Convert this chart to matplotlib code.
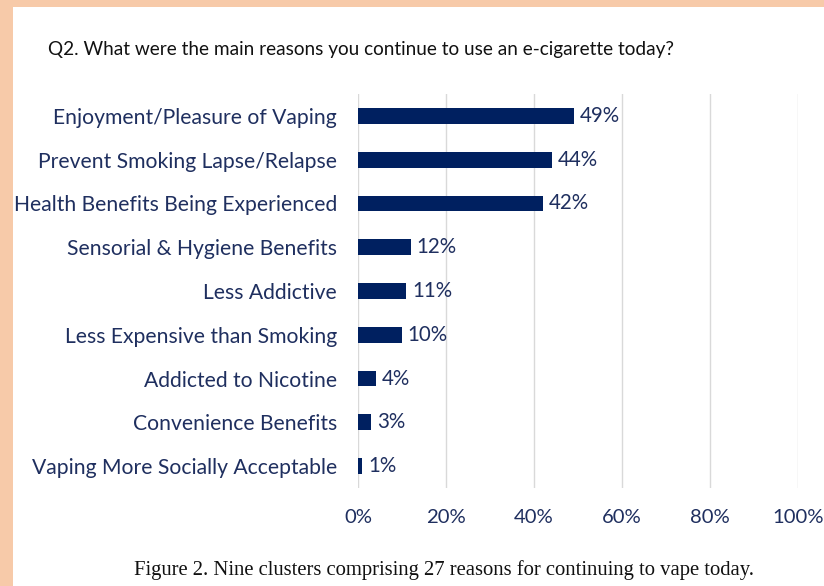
import matplotlib.pyplot as plt
from matplotlib.patches import Rectangle

reasons = ["Enjoyment/Pleasure of Vaping", "Prevent Smoking Lapse/Relapse",
           "Health Benefits Being Experienced", "Sensorial & Hygiene Benefits",
           "Less Addictive", "Less Expensive than Smoking", "Addicted to Nicotine",
           "Convenience Benefits", "Vaping More Socially Acceptable"]
percent = [49, 44, 42, 12, 11, 10, 4, 3, 1]
ticks = [0, 20, 40, 60, 80, 100]
tick_labels = ["0%", "20%", "40%", "60%", "80%", "100%"]

navy = "#002060"
text_navy = "#1f2f5f"

plt.rcParams["font.family"] = ["Lato", "DejaVu Sans"]

fig = plt.figure(figsize=(8.24, 5.86), dpi=100, facecolor="#f7caa9")
# white page with peach margin on left and top
fig.patches.append(Rectangle((13 / 824, 0), 1, 1 - 7 / 586, transform=fig.transFigure,
                             facecolor="white", edgecolor="none", zorder=-5))

ax = fig.add_axes([358 / 824, 1 - 488 / 586, 440 / 824, 394 / 586])
ax.set_zorder(2)
ax.set_facecolor("none")
y = list(range(len(reasons)))
ax.barh(y, percent, height=0.36, color=navy, zorder=3)
for yi, v in zip(y, percent):
    ax.text(v + 1.3, yi, f"{v}%", va="center", ha="left", fontsize=14.8, color=text_navy)

ax.set_xlim(0, 100)
ax.set_ylim(len(reasons) - 0.5, -0.5)
ax.set_xticks(ticks)
ax.set_xticklabels(tick_labels, fontsize=14.6, color=text_navy)
ax.set_yticks(y)
ax.set_yticklabels(reasons, fontsize=15.2, color=text_navy)
ax.tick_params(length=0)
ax.tick_params(axis="x", pad=15)
ax.tick_params(axis="y", pad=15)
ax.grid(axis="x", color="#d9d9d9", linewidth=1, zorder=0)
for s in ax.spines.values():
    s.set_visible(False)

fig.text(48 / 824, 1 - 50 / 586, "Q2. What were the main reasons you continue to use an e-cigarette today?",
         fontsize=13.7, color="#111111", va="center", ha="left")
fig.text(444 / 824, 1 - 570 / 586, "Figure 2. Nine clusters comprising 27 reasons for continuing to vape today.",
         fontsize=14.9, family="Liberation Serif", color="#111111", va="center", ha="center")

fig.savefig("out.png", dpi=100, facecolor=fig.get_facecolor())
